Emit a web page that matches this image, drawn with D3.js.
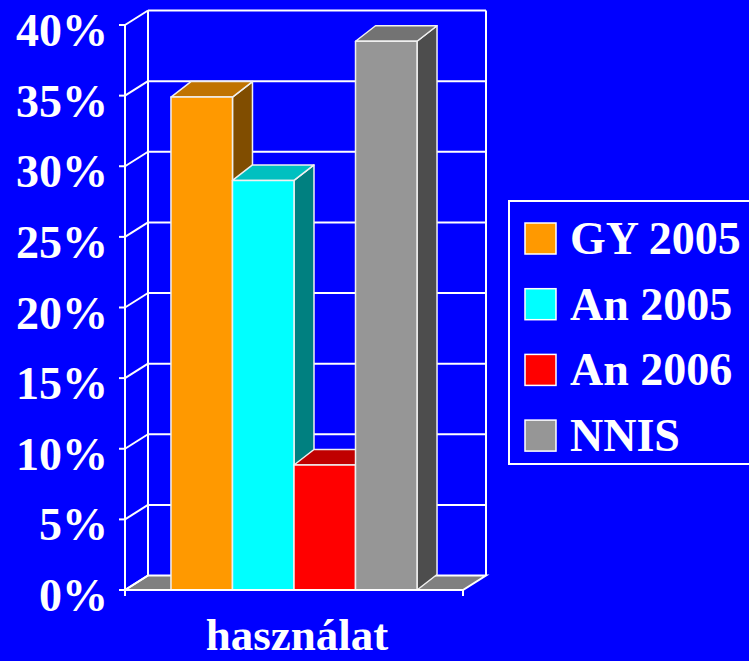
<!DOCTYPE html>
<html>
<head>
<meta charset="utf-8">
<script src="https://cdn.jsdelivr.net/npm/d3@7"></script>
<style>
  html, body { margin: 0; padding: 0; background: #0000ff; }
  svg { display: block; }
  text { font-family: "Liberation Serif", "Times New Roman", serif; font-weight: bold; fill: #fff; }
</style>
</head>
<body>
<svg id="chart" width="749" height="661"></svg>
<script>
// Data
const categories = ['használat'];
const seriesNames = ['GY 2005', 'An 2005', 'An 2006', 'NNIS'];
const seriesValues = [0.349, 0.29, 0.0885, 0.3885];
const tickValues = [0, 0.05, 0.10, 0.15, 0.20, 0.25, 0.30, 0.35, 0.40];

const frontColors = ['#ff9900', '#00ffff', '#ff0000', '#969696'];
const topColors = ['#c07300', '#00c0c0', '#c00000', '#737373'];
const sideColors = ['#804d00', '#008080', '#800000', '#4d4d4d'];

const svg = d3.select('#chart');
svg.append('rect').attr('width', 749).attr('height', 661).attr('fill', '#0000ff');

// Scales
const y = d3.scaleLinear().domain([0, 0.4]).range([590, 25]);
const xCat = d3.scaleBand().domain(categories).range([125, 463]);
const wallDx = 23, wallDy = -14.5;  // depth of the walls / floor
const barDx = 20, barDy = -15.5;    // depth of the bars

const x0 = xCat.range()[0], x1 = xCat.range()[1];
const floorY = y(0);

// Floor
svg.append('path')
    .attr('d', `M${x0},${floorY}L${x1},${floorY}L${x1 + wallDx},${floorY + wallDy}L${x0 + wallDx},${floorY + wallDy}Z`)
    .attr('fill', '#808080')
    .attr('stroke', '#fff')
    .attr('stroke-width', 2);

// Back wall gridlines
const grid = svg.append('g').attr('stroke', '#fff').attr('stroke-width', 2).attr('fill', 'none');
grid.selectAll('line.back')
    .data(tickValues.slice(1))
    .enter()
    .append('line')
    .attr('x1', x0 + wallDx)
    .attr('x2', x1 + wallDx)
    .attr('y1', d => y(d) + wallDy)
    .attr('y2', d => y(d) + wallDy);

// Left wall diagonals
grid.selectAll('line.side')
    .data(tickValues)
    .enter()
    .append('line')
    .attr('x1', x0)
    .attr('x2', x0 + wallDx)
    .attr('y1', d => y(d))
    .attr('y2', d => y(d) + wallDy);

// Wall verticals
[x0 + wallDx, x1 + wallDx].forEach(xv => {
    grid.append('line')
        .attr('x1', xv).attr('x2', xv)
        .attr('y1', y(0.4) + wallDy)
        .attr('y2', floorY + wallDy);
});

// Bars
categories.forEach(cat => {
    const bandStart = xCat(cat);
    const bw = xCat.bandwidth();
    const gap = bw * 0.136;
    const xSer = d3.scaleBand().domain(seriesNames).range([bandStart + gap, bandStart + bw - gap]);
    const w = xSer.bandwidth();

    const bars = svg.selectAll('g.bar')
        .data(seriesNames)
        .enter()
        .append('g')
        .attr('class', 'bar')
        .attr('stroke', '#f0f0f0')
        .attr('stroke-width', 1.5)
        .attr('stroke-linejoin', 'round');

    bars.each(function (name, i) {
        const g = d3.select(this);
        const bx = xSer(name);
        const top = y(seriesValues[i]);
        // side
        g.append('path')
            .attr('d', `M${bx + w},${floorY}L${bx + w + barDx},${floorY + barDy}L${bx + w + barDx},${top + barDy}L${bx + w},${top}Z`)
            .attr('fill', sideColors[i]);
        // top
        g.append('path')
            .attr('d', `M${bx},${top}L${bx + barDx},${top + barDy}L${bx + w + barDx},${top + barDy}L${bx + w},${top}Z`)
            .attr('fill', topColors[i]);
        // front
        g.append('rect')
            .attr('x', bx)
            .attr('y', top)
            .attr('width', w)
            .attr('height', floorY - top)
            .attr('fill', frontColors[i]);
    });
});

// Front axis
const axis = svg.append('g').attr('stroke', '#fff').attr('stroke-width', 2);
axis.append('line').attr('x1', x0).attr('x2', x0).attr('y1', y(0.4)).attr('y2', floorY + 6);
axis.append('line').attr('x1', x0).attr('x2', x1).attr('y1', floorY).attr('y2', floorY);
axis.append('line').attr('x1', x1).attr('x2', x1).attr('y1', floorY).attr('y2', floorY + 6);
axis.selectAll('line.tick')
    .data(tickValues)
    .enter()
    .append('line')
    .attr('x1', x0 - 6)
    .attr('x2', x0)
    .attr('y1', d => y(d))
    .attr('y2', d => y(d));

// Tick labels
svg.selectAll('text.ytick')
    .data(tickValues)
    .enter()
    .append('text')
    .attr('x', 108)
    .attr('y', d => y(d) + 21)
    .attr('text-anchor', 'end')
    .style('font-size', '46px')
    .text(d => d3.format('.0%')(d));

// Category label
svg.selectAll('text.xcat')
    .data(categories)
    .enter()
    .append('text')
    .attr('x', d => xCat(d) + xCat.bandwidth() / 2 + 3)
    .attr('y', 650)
    .attr('text-anchor', 'middle')
    .style('font-size', '45px')
    .text(d => d);

// Legend
const legend = svg.append('g');
legend.append('rect')
    .attr('x', 509).attr('y', 201)
    .attr('width', 260).attr('height', 263)
    .attr('fill', 'none')
    .attr('stroke', '#fff')
    .attr('stroke-width', 2);

const items = legend.selectAll('g.item')
    .data(seriesNames)
    .enter()
    .append('g')
    .attr('transform', (d, i) => `translate(525, ${223 + i * 65.7})`);

items.append('rect')
    .attr('width', 31).attr('height', 31)
    .attr('fill', (d, i) => frontColors[i])
    .attr('stroke', '#fff')
    .attr('stroke-width', 1.5);

items.append('text')
    .attr('x', 45)
    .attr('y', 31)
    .style('font-size', '46px')
    .text(d => d);
</script>
</body>
</html>
